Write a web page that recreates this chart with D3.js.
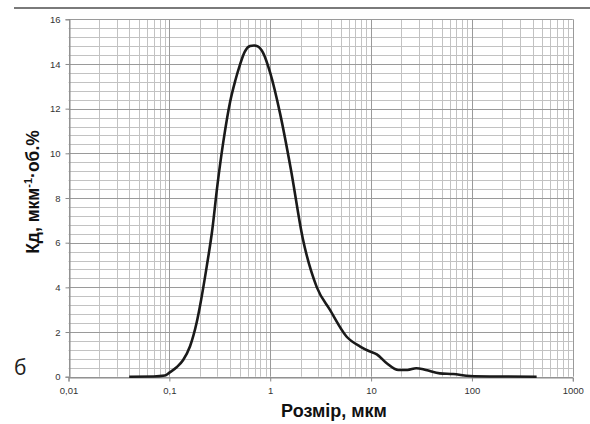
<!DOCTYPE html>
<html><head><meta charset="utf-8">
<script src="https://cdn.jsdelivr.net/npm/d3@7"></script>
<style>body{margin:0;background:#fff}svg{display:block}</style>
</head><body>
<script>
const sizes = [0.04,0.07,0.09,0.1,0.118,0.137,0.16,0.186,0.2,0.235,0.265,0.3,0.345,0.4,0.45,0.5,0.56,0.63,0.69,0.76,0.85,1.0,1.25,1.6,2.1,2.9,3.9,5.7,7.8,9.5,11.4,14.3,18.6,23,28,35,48,65,96,150,438];
const values = [0,0.01,0.05,0.18,0.42,0.75,1.35,2.4,3.1,4.95,6.5,8.6,10.6,12.3,13.25,13.95,14.55,14.8,14.83,14.78,14.5,13.6,11.8,9.3,6.2,4.0,3.0,1.8,1.35,1.15,1.0,0.6,0.3,0.3,0.38,0.3,0.15,0.12,0.03,0.01,0];
const xTicks = [0.01,0.1,1,10,100,1000];
const xTickLabels = ["0,01","0,1","1","10","100","1000"];
const yTicks = [0,2,4,6,8,10,12,14,16];

const W=590,H=424;
const svg=d3.select("body").append("svg").attr("width",W).attr("height",H);
const x=d3.scaleLog().domain([0.01,1000]).range([68.5,572.8]);
const y=d3.scaleLinear().domain([0,16]).range([376.7,19.3]);

// top rule
svg.append("line").attr("x1",14).attr("x2",590).attr("y1",8).attr("y2",8).attr("stroke","#7a7a7a").attr("stroke-width",2);

const g=svg.append("g");
const hMinor=d3.range(0,16.001,0.4).filter(v=>Math.abs(v/2-Math.round(v/2))>1e-6);
g.selectAll(".hm").data(hMinor).join("line")
 .attr("x1",x(0.01)).attr("x2",x(1000)).attr("y1",d=>Math.round(y(d))+0.5).attr("y2",d=>Math.round(y(d))+0.5)
 .attr("stroke","#c2c2c2").attr("stroke-width",1);
const vMinor=[];
[0.01,0.1,1,10,100].forEach(b=>{for(let k=2;k<=9;k++)vMinor.push(b*k);});
g.selectAll(".vm").data(vMinor).join("line")
 .attr("y1",y(0)).attr("y2",y(16)).attr("x1",d=>Math.round(x(d))+0.5).attr("x2",d=>Math.round(x(d))+0.5)
 .attr("stroke","#c2c2c2").attr("stroke-width",1);
g.selectAll(".hM").data(yTicks).join("line")
 .attr("x1",x(0.01)).attr("x2",x(1000)).attr("y1",d=>Math.round(y(d))+0.5).attr("y2",d=>Math.round(y(d))+0.5)
 .attr("stroke","#9a9a9a").attr("stroke-width",1);
g.selectAll(".vM").data(xTicks).join("line")
 .attr("y1",y(0)).attr("y2",y(16)).attr("x1",d=>Math.round(x(d))+0.5).attr("x2",d=>Math.round(x(d))+0.5)
 .attr("stroke","#9a9a9a").attr("stroke-width",1);

const yAxis=d3.axisLeft(y).tickValues(yTicks).tickSize(4).tickPadding(5).tickFormat(d3.format("d"));
const ya=svg.append("g").attr("transform",`translate(${Math.round(x(0.01))+0.5},0)`).call(yAxis);
const xAxis=d3.axisBottom(x).tickValues(xTicks).tickSize(4).tickPadding(6).tickFormat((d,i)=>xTickLabels[i]);
const xa=svg.append("g").attr("transform",`translate(0,${Math.round(y(0))+0.5})`).call(xAxis);
[ya,xa].forEach(a=>{
  a.select(".domain").attr("stroke","#8a8a8a");
  a.selectAll(".tick line").attr("stroke","#8a8a8a");
  a.selectAll("text").attr("fill","#333").style("font-family","'Liberation Sans',Arial,sans-serif").style("font-size","9.5px");
});

const line=d3.line().x((d,i)=>x(sizes[i])).y(d=>y(d)).curve(d3.curveMonotoneX);
svg.append("path").datum(values).attr("d",line).attr("fill","none").attr("stroke","#1a1a1a").attr("stroke-width",2.6).attr("stroke-linejoin","round");

const yt=svg.append("text").attr("transform","translate(39,192) rotate(-90)").attr("text-anchor","middle")
 .style("font-family","'Liberation Sans',Arial,sans-serif").style("font-size","17.5px").style("font-weight","bold").attr("fill","#111");
yt.append("tspan").text("Кд, мкм");
yt.append("tspan").attr("dy",-7).style("font-size","11px").text("-1");
yt.append("tspan").attr("dy",7).text("·об.%");
svg.append("text").attr("x",334).attr("y",417).attr("text-anchor","middle")
 .style("font-family","'Liberation Sans',Arial,sans-serif").style("font-size","18px").style("font-weight","bold").attr("fill","#111").text("Розмір, мкм");
svg.append("text").attr("x",14).attr("y",375)
 .style("font-family","'Open Sans','DejaVu Sans',sans-serif").style("font-size","21px").attr("fill","#222").text("б");
</script>
</body></html>
